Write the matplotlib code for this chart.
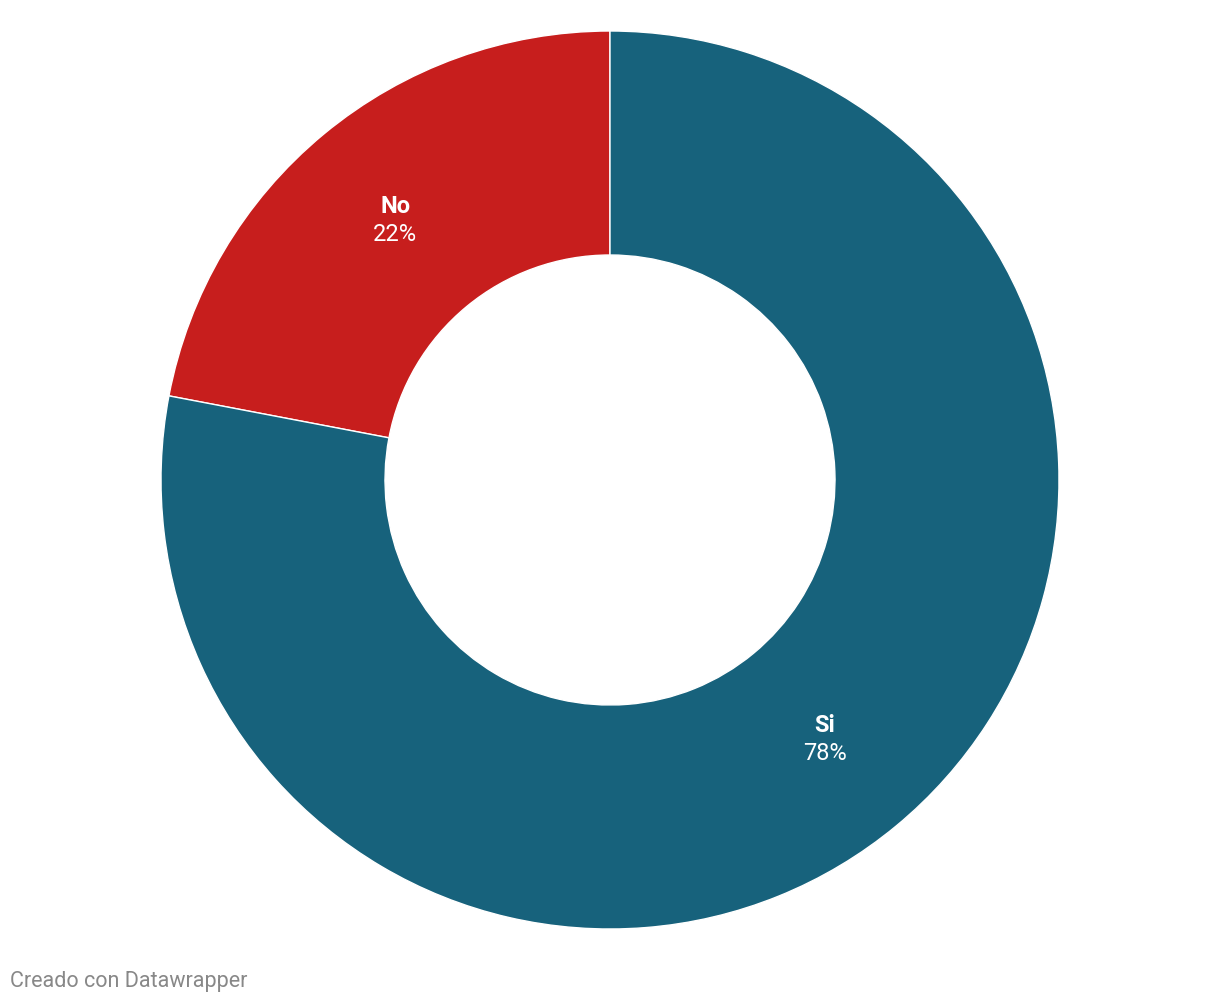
import matplotlib.pyplot as plt
import numpy as np

plt.rcParams['font.family'] = ['Roboto', 'DejaVu Sans']

labels = ['No', 'Si']
values = [22, 78]
colors = ['#c71e1d', '#17627c']

W, H = 1220, 1006
cx, cy = 610, H - 480
r_out = 449
r_in = 225

fig = plt.figure(figsize=(W / 100, H / 100), dpi=100)
ax = fig.add_axes([0, 0, 1, 1])

wedges, _ = ax.pie(
    values,
    colors=colors,
    startangle=90,
    counterclock=True,
    radius=r_out,
    center=(cx, cy),
    wedgeprops=dict(width=r_out - r_in, edgecolor='white', linewidth=1),
    frame=True,
)
ax.set_xlim(0, W)
ax.set_ylim(0, H)
ax.axis('off')

# labels sit in the middle of the ring
r_lab = (r_out + r_in) / 2
total = sum(values)
start = 90
for lab, v in zip(labels, values):
    mid = np.deg2rad(start + v / total * 360 / 2)
    start += v / total * 360
    x = cx + r_lab * np.cos(mid)
    y = cy + r_lab * np.sin(mid)
    ax.text(x, y + 14, lab, ha='center', va='center', color='white',
            fontsize=17, fontweight='bold')
    ax.text(x, y - 14, f'{v}%', ha='center', va='center', color='white',
            fontsize=17)

fig.text(10 / W, 1 - 982 / H, 'Creado con Datawrapper', ha='left', va='center',
         color='#888888', fontsize=15.5)

fig.savefig('out.png', dpi=100)
